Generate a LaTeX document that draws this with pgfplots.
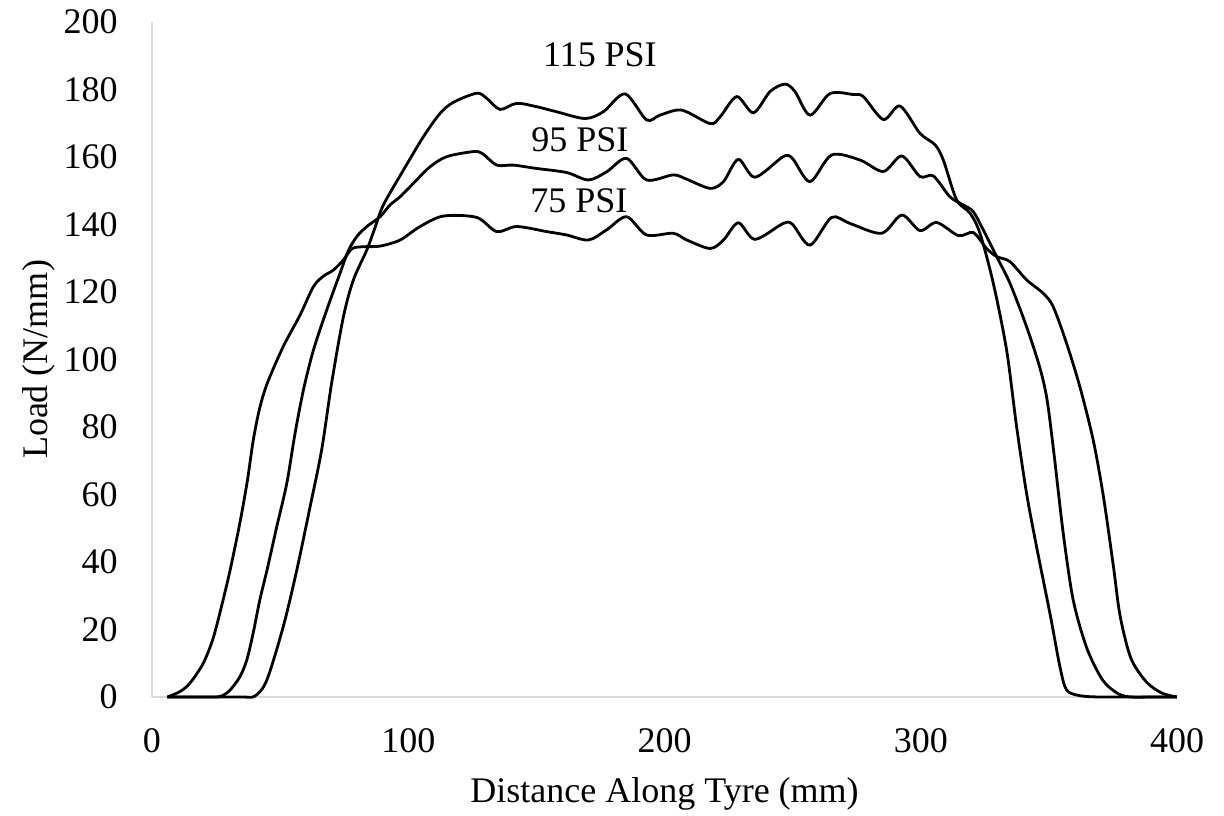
\documentclass[border=0pt]{standalone}
\usepackage{pgfplots}
\pgfplotsset{compat=1.18}
\usepackage{fontspec}
\setmainfont{Liberation Serif}
\begin{document}
\fontsize{18}{21.6}\selectfont
\begin{tikzpicture}[font=\fontsize{18}{21.6}\selectfont]
\begin{axis}[
 scale only axis, width=512.5pt, height=337.5pt,
 xmin=0,xmax=400,ymin=0,ymax=200,
 xtick={0,100,...,400}, ytick={0,20,...,200},
 axis x line=bottom, axis y line=left,
 axis line style={-, draw=black!15, line width=0.7pt},
 major tick length=0pt,
 /pgf/number format/assume math mode=true,
 tick label style={font=\fontsize{18}{21.6}\selectfont},
 xticklabel style={anchor=north, inner sep=0pt},
 yticklabel style={anchor=east, inner sep=0pt},
 xticklabel shift=15.5pt, yticklabel shift=17pt,
 xlabel={Distance Along Tyre (mm)}, ylabel={Load (N/mm)},
 xlabel style={at={(axis description cs:0.5,-0.157)}, anchor=base},
 ylabel style={at={(axis description cs:-0.1024,0.5)}, anchor=base},
 clip=false,
]
% 75 PSI
\addplot[black, line width=1.4pt, smooth, tension=0.5, mark=none] coordinates {
(6,0) (10.9,1.6) (14.8,4.1) (20,10) (23.9,17.5) (27.5,28) (30.6,38) (34.3,51.6) (37.2,64) (39.5,76) (42,85.5) (45,93) (51.2,103.8) (57.8,113.2) (63,121.6) (66.9,124.7) (70.8,126.5) (74.7,129.5) (78,132.8) (82,133.4) (89,133.6) (96.8,135.4) (104.6,139.4) (113.7,142.5) (126.7,142.1) (134.5,137.9) (142.3,139.4) (154,137.9) (161.8,136.9) (170.3,135.4) (177.4,138.4) (185.2,142.3) (193,136.9) (203.4,137.4) (208.7,135.4) (217.8,132.9) (223,135.4) (228.8,140.5) (235.3,135.6) (246.3,140.3) (250,140) (256.8,133.9) (265.2,142.1) (272.4,140.3) (284.7,137.4) (292.6,142.8) (299.7,138.2) (306.2,140.6) (314.7,136.7) (320.5,137.6) (325.7,132.9) (329.6,130.5) (334.8,129) (341.3,123.6) (347.8,119.6) (351.7,115.6) (356.9,104.8) (362.1,91.9) (367.3,76.1) (371.3,59.3) (375.2,38.6) (377.8,24) (382,11.5) (388,4.5) (394,1.2) (399.9,0)
};
% 95 PSI
\addplot[black, line width=1.4pt, smooth, tension=0.5, mark=none] coordinates {
(6,0) (15,0) (24,0) (27.2,0.3) (30.4,2) (34.3,6) (37,11) (39.5,19) (42,28.5) (45,38) (48.7,50.5) (52.6,63.3) (55.8,78) (59.1,91) (63,102.8) (68.2,114.7) (73.4,125.6) (76.6,132.2) (80,136.5) (84,139.5) (89,142.3) (92.9,145.8) (96.8,148.2) (102,152.2) (108.5,157.1) (115,160.1) (125.4,161.6) (129,161) (134.5,157.6) (141,157.6) (150.1,156.6) (161.8,155.4) (170.3,153.2) (177.4,155.6) (185.2,159.6) (193,153.2) (203.4,154.7) (208.7,153.4) (217.8,150.7) (223,152.7) (228.8,159.3) (235.3,154) (246.3,160.1) (250,159.5) (256.8,152.7) (265.2,160.6) (276.3,159.1) (285.4,155.7) (292.6,160.3) (299.7,154.2) (304.9,154.4) (311.4,148.2) (316.6,145.8) (320.5,143.8) (324.4,138.4) (329.6,130.5) (334.8,122.6) (341.3,109.7) (346.5,97.5) (349.3,88) (352,72) (355.6,48.5) (359.5,28.7) (364.8,14.5) (371,5) (377,1) (382,0) (390,0) (399.9,0)
};
% 115 PSI
\addplot[black, line width=1.4pt, smooth, tension=0.5, mark=none] coordinates {
(6,0) (20,0) (35,0) (40.2,0.3) (44.8,5) (51.2,20.8) (56.5,37.6) (61.7,56.4) (66.2,73.2) (70.1,93) (74.7,112.7) (78.6,123.6) (83.8,132.4) (87,139) (90.3,145.8) (98.1,156.1) (105.9,166) (112.4,172.9) (117.6,176.2) (126.7,178.9) (130.6,177.4) (135.8,174.1) (142.3,175.9) (150.1,174.9) (157.9,173.4) (169,171.4) (176.1,173.4) (184.6,178.7) (193,171) (198.2,172.4) (206.7,173.9) (217.8,169.9) (221.7,171.9) (228.2,177.9) (234.7,173.1) (241.2,179.4) (247,181.6) (250.9,179.4) (256.8,172.4) (264.6,178.8) (273.7,178.5) (277.6,177.9) (285.4,171.1) (291.9,175.1) (299.7,167) (305.6,163.6) (308.8,159.1) (314,147.3) (319.2,143.4) (323.1,137.4) (328.3,122.6) (333.5,102.8) (337.4,80.1) (341.3,60.3) (345.2,44.5) (350.4,24.8) (354.3,9) (356.9,2.1) (362.1,0.4) (370,0) (385,0) (399.9,0)
};
\node[anchor=base] at (axis cs:174.8,186.7) {115 PSI};
\node[anchor=base] at (axis cs:167,161.6) {95 PSI};
\node[anchor=base] at (axis cs:166.6,143.5) {75 PSI};
\end{axis}
\path (current axis.south west) ++(-76pt,-59pt) coordinate (A);
\path (current axis.north east) ++(23.5pt,11pt) coordinate (B);
\pgfresetboundingbox
\path (A) rectangle (B);
\end{tikzpicture}
\end{document}
